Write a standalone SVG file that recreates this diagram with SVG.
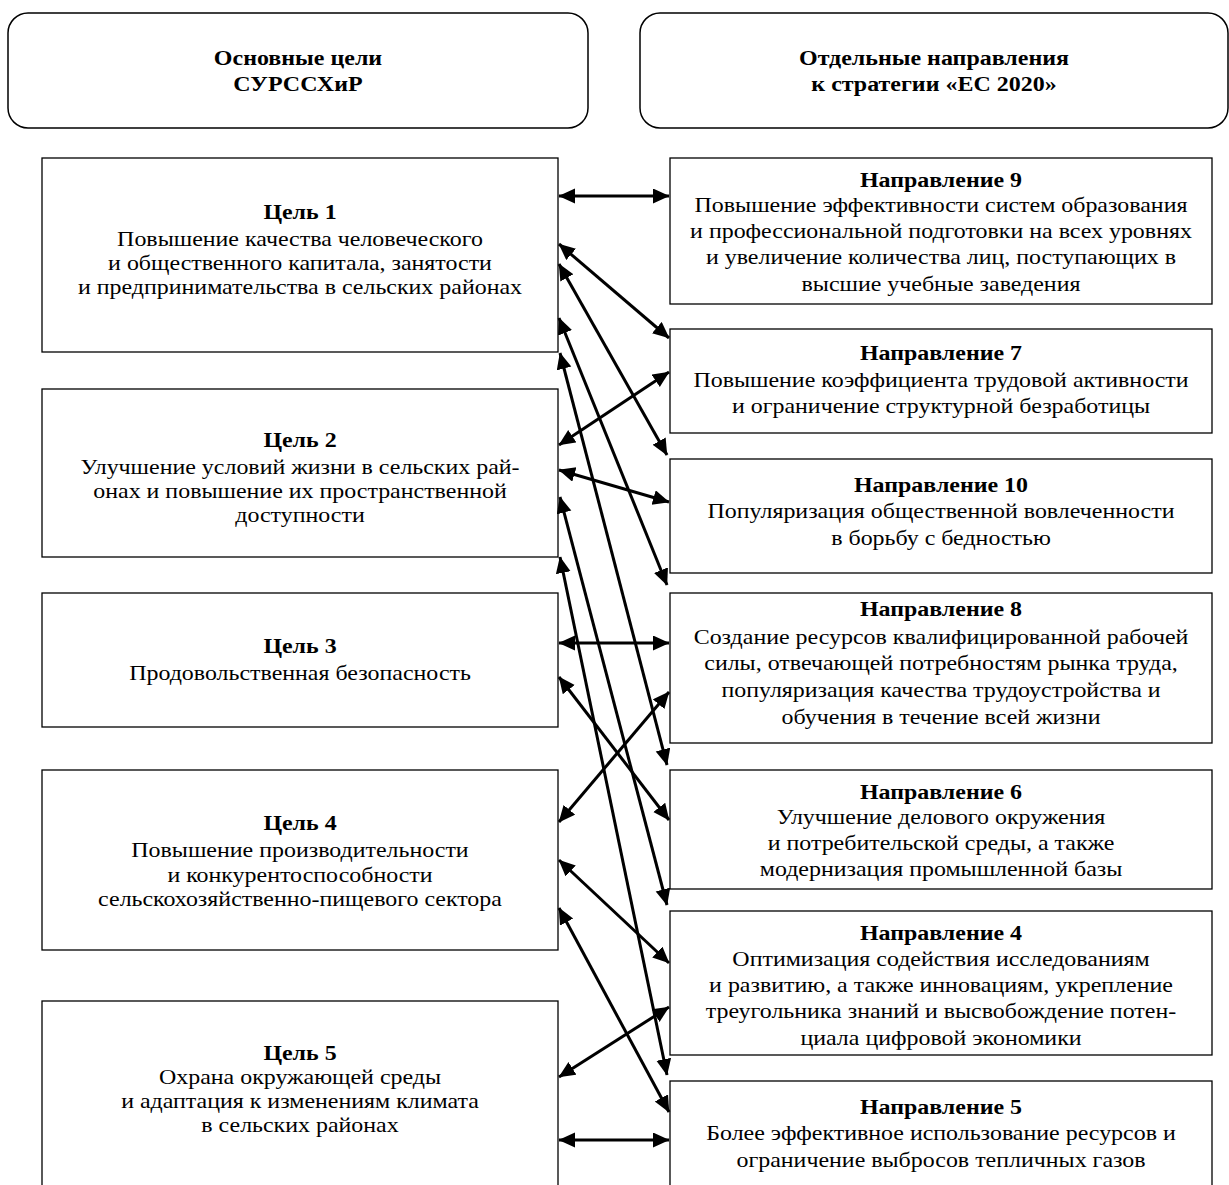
<svg xmlns="http://www.w3.org/2000/svg" width="1229" height="1185" viewBox="0 0 1229 1185">
<style>
.hdr{fill:#fff;stroke:#000;stroke-width:1.5}
.box{fill:#fff;stroke:#000;stroke-width:1.3}
text{font-family:"Liberation Serif","Times New Roman",serif;fill:#000;text-anchor:middle}
.t{font-size:21px}
.b{font-size:21px;font-weight:bold}
.h{font-size:22px;font-weight:bold}
.c line{stroke:#000;stroke-width:3;marker-start:url(#ah);marker-end:url(#ah)}
</style>
<defs>
<marker id="ah" markerUnits="userSpaceOnUse" markerWidth="18" markerHeight="16" refX="16" refY="7.5" orient="auto-start-reverse" viewBox="0 0 18 16">
<path d="M0,0 L16.5,7.5 L0,15 z" fill="#000"/>
</marker>
</defs>
<rect width="1229" height="1185" fill="#fff"/>

<g id="header-left">
<rect class="hdr" x="8" y="13" width="580" height="115" rx="20"/>
<g transform="translate(298,0) scale(1.09,1)">
<text class="h" x="0" y="65">Основные цели</text>
<text class="h" x="0" y="91">СУРССХиР</text>
</g>
</g>
<g id="header-right">
<rect class="hdr" x="640" y="13" width="588" height="115" rx="20"/>
<g transform="translate(934,0) scale(1.09,1)">
<text class="h" x="0" y="65">Отдельные направления</text>
<text class="h" x="0" y="91">к стратегии «ЕС 2020»</text>
</g>
</g>

<g id="goal1">
<rect class="box" x="42" y="158" width="516" height="194"/>
<g transform="translate(300,0) scale(1.14,1)">
<text class="b" x="0" y="219">Цель 1</text>
<text class="t" x="0" y="246">Повышение качества человеческого</text>
<text class="t" x="0" y="270">и общественного капитала, занятости</text>
<text class="t" x="0" y="294">и предпринимательства в сельских районах</text>
</g>
</g>
<g id="goal2">
<rect class="box" x="42" y="389" width="516" height="168"/>
<g transform="translate(300,0) scale(1.14,1)">
<text class="b" x="0" y="447">Цель 2</text>
<text class="t" x="0" y="474">Улучшение условий жизни в сельских рай-</text>
<text class="t" x="0" y="498">онах и повышение их пространственной</text>
<text class="t" x="0" y="522">доступности</text>
</g>
</g>
<g id="goal3">
<rect class="box" x="42" y="593" width="516" height="134"/>
<g transform="translate(300,0) scale(1.14,1)">
<text class="b" x="0" y="653">Цель 3</text>
<text class="t" x="0" y="680">Продовольственная безопасность</text>
</g>
</g>
<g id="goal4">
<rect class="box" x="42" y="770" width="516" height="180"/>
<g transform="translate(300,0) scale(1.14,1)">
<text class="b" x="0" y="830">Цель 4</text>
<text class="t" x="0" y="857">Повышение производительности</text>
<text class="t" x="0" y="882">и конкурентоспособности</text>
<text class="t" x="0" y="906">сельскохозяйственно-пищевого сектора</text>
</g>
</g>
<g id="goal5">
<rect class="box" x="42" y="1001" width="516" height="200"/>
<g transform="translate(300,0) scale(1.14,1)">
<text class="b" x="0" y="1060">Цель 5</text>
<text class="t" x="0" y="1084">Охрана окружающей среды</text>
<text class="t" x="0" y="1108">и адаптация к изменениям климата</text>
<text class="t" x="0" y="1132">в сельских районах</text>
</g>
</g>

<g id="dir9">
<rect class="box" x="670" y="158" width="542" height="146"/>
<g transform="translate(941,0) scale(1.14,1)">
<text class="b" x="0" y="187">Направление 9</text>
<text class="t" x="0" y="212">Повышение эффективности систем образования</text>
<text class="t" x="0" y="238">и профессиональной подготовки на всех уровнях</text>
<text class="t" x="0" y="264">и увеличение количества лиц, поступающих в</text>
<text class="t" x="0" y="291">высшие учебные заведения</text>
</g>
</g>
<g id="dir7">
<rect class="box" x="670" y="329" width="542" height="104"/>
<g transform="translate(941,0) scale(1.14,1)">
<text class="b" x="0" y="360">Направление 7</text>
<text class="t" x="0" y="387">Повышение коэффициента трудовой активности</text>
<text class="t" x="0" y="413">и ограничение структурной безработицы</text>
</g>
</g>
<g id="dir10">
<rect class="box" x="670" y="459" width="542" height="114"/>
<g transform="translate(941,0) scale(1.14,1)">
<text class="b" x="0" y="492">Направление 10</text>
<text class="t" x="0" y="518">Популяризация общественной вовлеченности</text>
<text class="t" x="0" y="545">в борьбу с бедностью</text>
</g>
</g>
<g id="dir8">
<rect class="box" x="670" y="593" width="542" height="150"/>
<g transform="translate(941,0) scale(1.14,1)">
<text class="b" x="0" y="616">Направление 8</text>
<text class="t" x="0" y="644">Создание ресурсов квалифицированной рабочей</text>
<text class="t" x="0" y="670">силы, отвечающей потребностям рынка труда,</text>
<text class="t" x="0" y="697">популяризация качества трудоустройства и</text>
<text class="t" x="0" y="724">обучения в течение всей жизни</text>
</g>
</g>
<g id="dir6">
<rect class="box" x="670" y="770" width="542" height="119"/>
<g transform="translate(941,0) scale(1.14,1)">
<text class="b" x="0" y="799">Направление 6</text>
<text class="t" x="0" y="824">Улучшение делового окружения</text>
<text class="t" x="0" y="850">и потребительской среды, а также</text>
<text class="t" x="0" y="876">модернизация промышленной базы</text>
</g>
</g>
<g id="dir4">
<rect class="box" x="670" y="911" width="542" height="144"/>
<g transform="translate(941,0) scale(1.14,1)">
<text class="b" x="0" y="940">Направление 4</text>
<text class="t" x="0" y="966">Оптимизация содействия исследованиям</text>
<text class="t" x="0" y="992">и развитию, а также инновациям, укрепление</text>
<text class="t" x="0" y="1018">треугольника знаний и высвобождение потен-</text>
<text class="t" x="0" y="1045">циала цифровой экономики</text>
</g>
</g>
<g id="dir5">
<rect class="box" x="670" y="1081" width="542" height="120"/>
<g transform="translate(941,0) scale(1.14,1)">
<text class="b" x="0" y="1114">Направление 5</text>
<text class="t" x="0" y="1140">Более эффективное использование ресурсов и</text>
<text class="t" x="0" y="1167">ограничение выбросов тепличных газов</text>
</g>
</g>

<g id="connectors" class="c">
<line x1="559" y1="196" x2="669" y2="196"/>
<line x1="559" y1="244" x2="669" y2="338"/>
<line x1="559" y1="264" x2="667" y2="455"/>
<line x1="559" y1="318" x2="667" y2="585"/>
<line x1="560" y1="353" x2="667" y2="765"/>
<line x1="559" y1="445" x2="669" y2="372"/>
<line x1="559" y1="470" x2="669" y2="502"/>
<line x1="560" y1="497" x2="667" y2="905"/>
<line x1="560" y1="557" x2="667" y2="1075"/>
<line x1="559" y1="643" x2="669" y2="643"/>
<line x1="559" y1="677" x2="669" y2="820"/>
<line x1="559" y1="822" x2="669" y2="692"/>
<line x1="559" y1="860" x2="669" y2="963"/>
<line x1="559" y1="908" x2="669" y2="1112"/>
<line x1="559" y1="1077" x2="669" y2="1007"/>
<line x1="559" y1="1140" x2="669" y2="1140"/>
</g>
</svg>
